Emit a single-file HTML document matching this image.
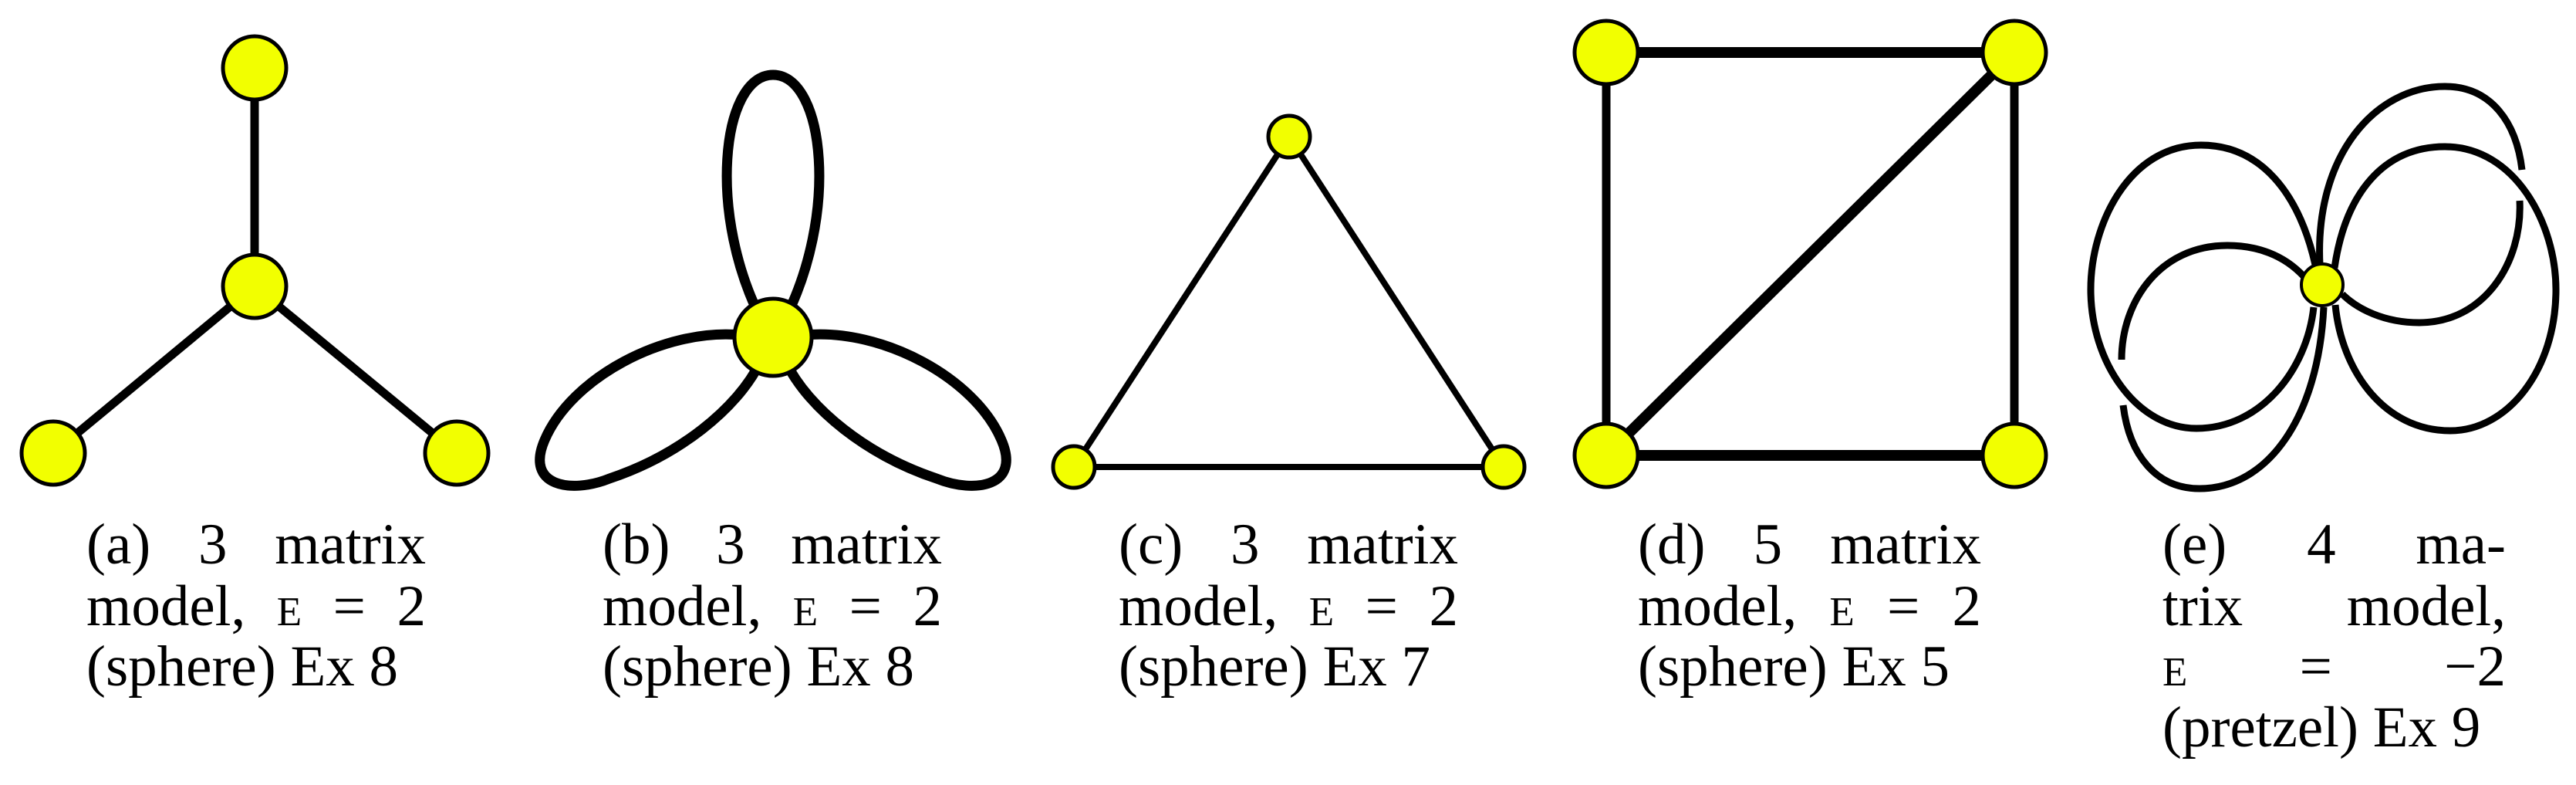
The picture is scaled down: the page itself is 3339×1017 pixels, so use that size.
<!DOCTYPE html>
<html><head><meta charset="utf-8"><style>
html,body{margin:0;padding:0;background:#fff;}
#w{position:relative;width:3339px;height:1017px;overflow:hidden;background:#fff;}
svg{position:absolute;left:0;top:0;}
.l{position:absolute;font-family:"Liberation Serif",serif;font-size:75px;line-height:1;color:#000;white-space:nowrap;height:75px;}
.j{display:flex;justify-content:space-between;}
.sc{font-variant:small-caps;}
</style></head><body><div id="w">
<svg width="3339" height="1017" viewBox="0 0 3339 1017">
<g stroke="#000" fill="none" stroke-linecap="butt">
<line x1="330" y1="88" x2="330" y2="371" stroke-width="11"/>
<line x1="330" y1="371" x2="69" y2="587" stroke-width="11"/>
<line x1="330" y1="371" x2="592" y2="587" stroke-width="11"/>
<g stroke-width="13">
<path d="M990,420 C915,280 935,97 1002,97 C1069,97 1089,280 1014,420"/>
<path d="M960,434 C860,425 740,490 706,570 C680,630 740,640 790,620 C880,590 955,530 985,470"/>
<path d="M1044,434 C1144,425 1264,490 1298,570 C1324,630 1264,640 1214,620 C1124,590 1049,530 1019,470"/>
</g>
<g stroke-width="8">
<line x1="1671" y1="177" x2="1392" y2="605"/>
<line x1="1671" y1="177" x2="1949" y2="605"/>
<line x1="1392" y1="605" x2="1949" y2="605"/>
</g>
<line x1="2082" y1="68" x2="2611" y2="68" stroke-width="14"/>
<line x1="2082" y1="590" x2="2611" y2="590" stroke-width="14"/>
<line x1="2082" y1="68" x2="2082" y2="590" stroke-width="11"/>
<line x1="2611" y1="68" x2="2611" y2="590" stroke-width="11"/>
<line x1="2082" y1="590" x2="2611" y2="68" stroke-width="14"/>
<g stroke-width="9">
<path d="M3001,343 C2980,250 2930,188 2853,188 C2760,188 2710,290 2710,375 C2710,470 2770,555 2847,555 C2930,555 2990,480 2999,398"/>
<path d="M2986,358 C2960,330 2925,318 2887,318 C2800,318 2750,390 2750,466"/>
<path d="M2752,525 C2760,590 2795,633 2851,633 C2940,633 3005,540 3012,398"/>
<path d="M3007,343 C3000,200 3080,112 3169,112 C3230,112 3262,160 3269,220"/>
<path d="M3026,347 C3040,250 3090,190 3169,190 C3260,190 3313,290 3313,375 C3313,480 3250,558 3176,558 C3090,558 3035,480 3027,395"/>
<path d="M3266,260 C3270,340 3220,418 3136,418 C3090,418 3055,400 3036,381"/>
</g>
</g>
<g fill="#f2ff00" stroke="#000" stroke-width="5">
<circle cx="330" cy="88" r="41"/>
<circle cx="330" cy="371" r="41"/>
<circle cx="69" cy="587" r="41"/>
<circle cx="592" cy="587" r="41"/>
<circle cx="1002" cy="437" r="50"/>
<circle cx="1671" cy="177" r="27"/>
<circle cx="1392" cy="605" r="27"/>
<circle cx="1949" cy="605" r="27"/>
<circle cx="2082" cy="68" r="41"/>
<circle cx="2611" cy="68" r="41"/>
<circle cx="2082" cy="590" r="41"/>
<circle cx="2611" cy="590" r="41"/>
<circle cx="3010" cy="369" r="27" stroke-width="4"/>
</g>
</svg>

<div class="l j" style="left:112px;width:440px;top:668px"><span>(a)</span><span>3</span><span>matrix</span></div>
<div class="l j" style="left:112px;width:440px;top:748px"><span>model,</span><span class="sc">e</span><span>=</span><span>2</span></div>
<div class="l" style="left:112px;top:826px">(sphere) Ex 8</div>

<div class="l j" style="left:781px;width:440px;top:668px"><span>(b)</span><span>3</span><span>matrix</span></div>
<div class="l j" style="left:781px;width:440px;top:748px"><span>model,</span><span class="sc">e</span><span>=</span><span>2</span></div>
<div class="l" style="left:781px;top:826px">(sphere) Ex 8</div>

<div class="l j" style="left:1450px;width:440px;top:668px"><span>(c)</span><span>3</span><span>matrix</span></div>
<div class="l j" style="left:1450px;width:440px;top:748px"><span>model,</span><span class="sc">e</span><span>=</span><span>2</span></div>
<div class="l" style="left:1450px;top:826px">(sphere) Ex 7</div>

<div class="l j" style="left:2123px;width:445px;top:668px"><span>(d)</span><span>5</span><span>matrix</span></div>
<div class="l j" style="left:2123px;width:445px;top:748px"><span>model,</span><span class="sc">e</span><span>=</span><span>2</span></div>
<div class="l" style="left:2123px;top:826px">(sphere) Ex 5</div>

<div class="l j" style="left:2803px;width:445px;top:668px"><span>(e)</span><span>4</span><span>ma-</span></div>
<div class="l j" style="left:2803px;width:445px;top:748px"><span>trix</span><span>model,</span></div>
<div class="l j" style="left:2803px;width:445px;top:826px"><span class="sc">e</span><span>=</span><span>−2</span></div>
<div class="l" style="left:2803px;top:905px">(pretzel) Ex 9</div>
</div></body></html>
